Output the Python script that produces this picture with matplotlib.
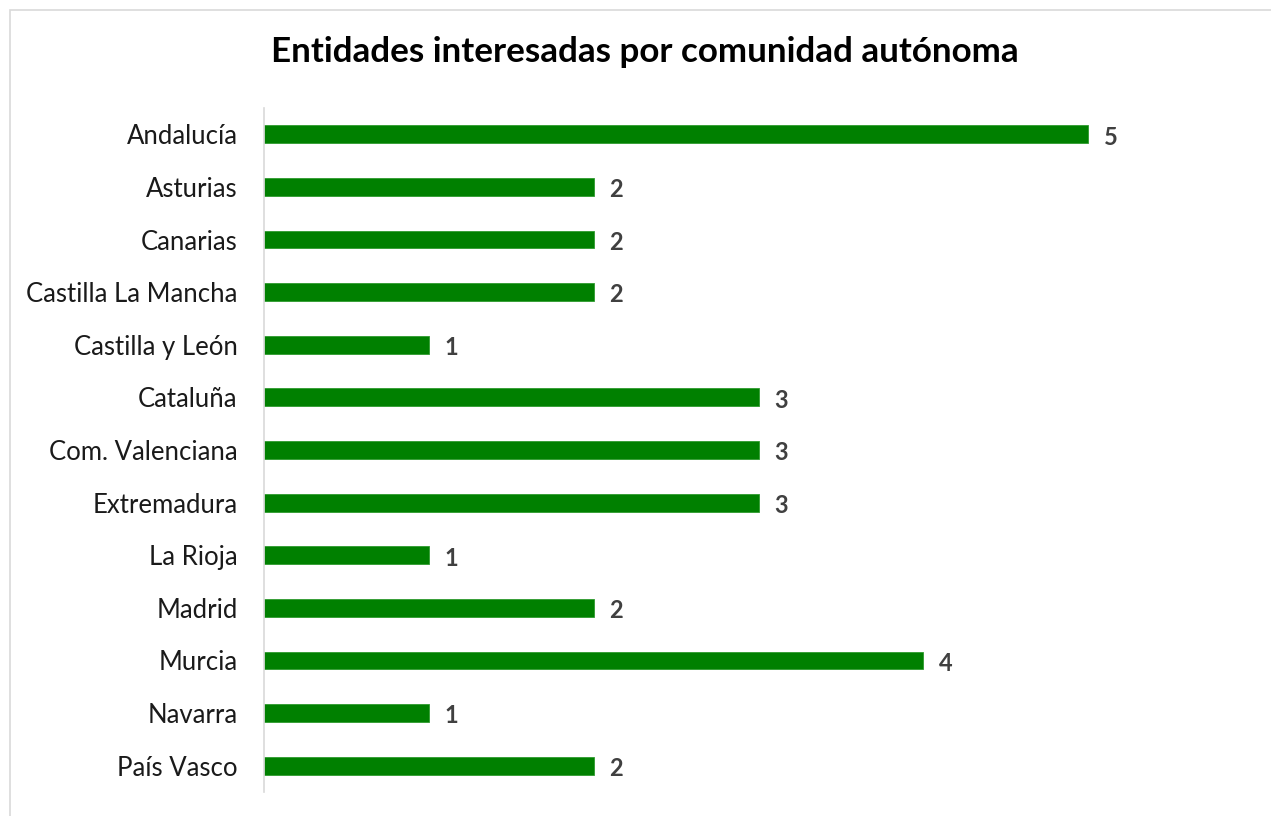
import matplotlib
matplotlib.use("Agg")
import matplotlib.pyplot as plt
from matplotlib.patches import Rectangle

categories = ["Andalucía", "Asturias", "Canarias", "Castilla La Mancha", "Castilla y León",
              "Cataluña", "Com. Valenciana", "Extremadura", "La Rioja", "Madrid",
              "Murcia", "Navarra", "País Vasco"]
values = [5, 2, 2, 2, 1, 3, 3, 3, 1, 2, 4, 1, 2]
title = "Entidades interesadas por comunidad autónoma"

W, H = 1271, 816
fig = plt.figure(figsize=(W / 100, H / 100), dpi=100)
fig.patch.set_facecolor("white")

# chart-area border
fig.add_artist(Rectangle((9.5 / W, -0.05), 1.2, (H - 9.5) / H + 0.05,
                         transform=fig.transFigure, fill=False,
                         edgecolor="#d9d9d9", linewidth=1.2))

left, right = 264 / W, 1253 / W
bottom, top = (H - 792) / H, (H - 108) / H
ax = fig.add_axes([left, bottom, right - left, top - bottom])

y = list(range(len(categories)))
ax.barh(y, values, height=0.34, color="#008000", edgecolor="#2e9a2e", linewidth=0.6)
ax.set_ylim(len(categories) - 0.5, -0.5)
ax.set_xlim(0, 6)

ax.set_yticks(y)
ax.set_yticklabels(categories, fontsize=18.5, color="#1a1a1a", family="Lato")
ax.tick_params(axis="y", length=0, pad=19)
ax.set_xticks([])

for s in ["top", "right", "bottom"]:
    ax.spines[s].set_visible(False)
ax.spines["left"].set_color("#d9d9d9")
ax.spines["left"].set_linewidth(1.2)

for yi, v in zip(y, values):
    ax.annotate(str(v), (v, yi), xytext=(11, -2), textcoords="offset points",
                ha="left", va="center", fontsize=17, fontweight="bold",
                color="#404040", family="Lato")

fig.text(645 / W, (H - 52) / H, title, ha="center", va="center",
         fontsize=25.2, fontweight="bold", color="black", family="Lato")

fig.savefig("out.png", dpi=100, facecolor="white")
